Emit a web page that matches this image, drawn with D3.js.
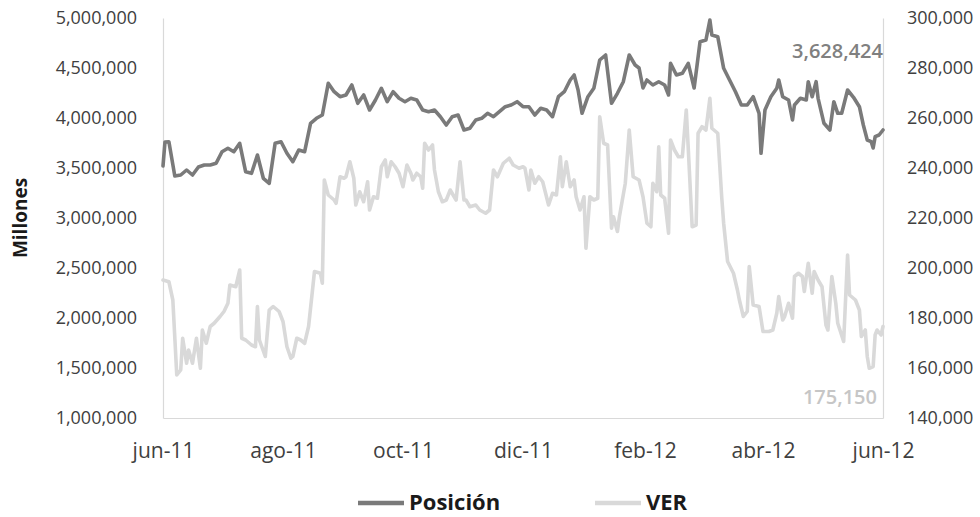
<!DOCTYPE html>
<html>
<head>
<meta charset="utf-8">
<script src="https://cdn.jsdelivr.net/npm/d3@7"></script>
<style>
  html, body { margin: 0; padding: 0; background: #ffffff; }
  svg { display: block; font-family: "Open Sans", sans-serif; }
</style>
</head>
<body>
<svg id="chart" width="980" height="517"></svg>
<script>
// ---------------- DATA ----------------
const posicionDates = [
  "2011-06-01","2011-06-02","2011-06-04","2011-06-07","2011-06-10","2011-06-13","2011-06-16","2011-06-19","2011-06-22","2011-06-25","2011-06-28",
  "2011-07-01","2011-07-04","2011-07-07","2011-07-10","2011-07-13","2011-07-16","2011-07-19","2011-07-22","2011-07-25","2011-07-28","2011-07-31",
  "2011-08-03","2011-08-06","2011-08-09","2011-08-12","2011-08-15","2011-08-18","2011-08-21","2011-08-24","2011-08-27","2011-08-30",
  "2011-09-02","2011-09-05","2011-09-08","2011-09-11","2011-09-14","2011-09-17","2011-09-20","2011-09-23","2011-09-26","2011-09-29",
  "2011-10-02","2011-10-05","2011-10-08","2011-10-11","2011-10-14","2011-10-17","2011-10-20","2011-10-23","2011-10-26","2011-10-29",
  "2011-11-01","2011-11-04","2011-11-07","2011-11-10","2011-11-13","2011-11-16","2011-11-19","2011-11-22","2011-11-25","2011-11-28",
  "2011-12-01","2011-12-04","2011-12-07","2011-12-10","2011-12-13","2011-12-16","2011-12-19","2011-12-22","2011-12-25","2011-12-27","2011-12-29","2011-12-31",
  "2012-01-03","2012-01-06","2012-01-09","2012-01-12","2012-01-15","2012-01-18","2012-01-21","2012-01-24","2012-01-27","2012-01-29","2012-01-31",
  "2012-02-02","2012-02-05","2012-02-08","2012-02-11","2012-02-13","2012-02-14","2012-02-17","2012-02-20","2012-02-23","2012-02-26","2012-02-29",
  "2012-03-03","2012-03-05","2012-03-06","2012-03-09","2012-03-12","2012-03-15","2012-03-18","2012-03-21","2012-03-24","2012-03-27","2012-03-30","2012-03-31",
  "2012-04-02","2012-04-05","2012-04-08","2012-04-09","2012-04-11","2012-04-14","2012-04-16","2012-04-17","2012-04-20","2012-04-23","2012-04-24","2012-04-26","2012-04-28","2012-04-29",
  "2012-05-02","2012-05-05","2012-05-07","2012-05-09","2012-05-11","2012-05-14","2012-05-17","2012-05-20","2012-05-22","2012-05-24","2012-05-26","2012-05-27","2012-05-28","2012-05-30",
  "2012-06-01"
];
const posicionValues = [
  3520000,3760000,3763000,3420000,3430000,3480000,3430000,3510000,3530000,3530000,3547000,
  3663000,3697000,3663000,3747000,3463000,3447000,3630000,3397000,3347000,3747000,3763000,
  3647000,3563000,3680000,3663000,3947000,3997000,4030000,4347000,4263000,4213000,
  4230000,4330000,4147000,4230000,4080000,4180000,4297000,4163000,4263000,4197000,
  4163000,4197000,4180000,4080000,4063000,4080000,4013000,3930000,4013000,4030000,
  3880000,3897000,3980000,3997000,4047000,4013000,4063000,4113000,4130000,4163000,
  4113000,4113000,4030000,4097000,4080000,4013000,4213000,4263000,4380000,4430000,4280000,4047000,
  4213000,4297000,4580000,4630000,4147000,4247000,4363000,4630000,4530000,4500000,4300000,
  4380000,4330000,4363000,4330000,4230000,4547000,4430000,4447000,4547000,4300000,4763000,
  4780000,4980000,4830000,4813000,4497000,4380000,4263000,4130000,4130000,4213000,4047000,3647000,
  4080000,4213000,4297000,4380000,4213000,4180000,3980000,4130000,4197000,4180000,4363000,4213000,4363000,4197000,
  3947000,3880000,4163000,4047000,4047000,4280000,4207000,4113000,3930000,3780000,3763000,3700000,3813000,3830000,
  3880000
];

const verDates = [
  "2011-06-01","2011-06-04","2011-06-06","2011-06-08","2011-06-10","2011-06-11","2011-06-13","2011-06-14","2011-06-16","2011-06-18","2011-06-20","2011-06-21","2011-06-23","2011-06-25","2011-06-27","2011-06-30",
  "2011-07-02","2011-07-04","2011-07-05","2011-07-08","2011-07-10","2011-07-11","2011-07-13","2011-07-16","2011-07-18","2011-07-19","2011-07-20","2011-07-23","2011-07-25","2011-07-27","2011-07-30",
  "2011-08-01","2011-08-03","2011-08-05","2011-08-06","2011-08-08","2011-08-10","2011-08-12","2011-08-14","2011-08-16","2011-08-17","2011-08-20","2011-08-21","2011-08-22","2011-08-24","2011-08-27","2011-08-28","2011-08-30",
  "2011-09-01","2011-09-02","2011-09-04","2011-09-06","2011-09-07","2011-09-09","2011-09-11","2011-09-13","2011-09-14","2011-09-16","2011-09-18","2011-09-20","2011-09-22","2011-09-23","2011-09-25","2011-09-27","2011-09-29",
  "2011-10-01","2011-10-03","2011-10-05","2011-10-06","2011-10-08","2011-10-10","2011-10-11","2011-10-12","2011-10-14","2011-10-16","2011-10-17","2011-10-19","2011-10-21","2011-10-23","2011-10-25","2011-10-27","2011-10-28","2011-10-30",
  "2011-11-01","2011-11-02","2011-11-04","2011-11-07","2011-11-09","2011-11-12","2011-11-14","2011-11-16","2011-11-18","2011-11-21","2011-11-24","2011-11-26","2011-11-29",
  "2011-12-01","2011-12-02","2011-12-04","2011-12-05","2011-12-07","2011-12-09","2011-12-11","2011-12-14","2011-12-16","2011-12-18","2011-12-20","2011-12-21","2011-12-23","2011-12-25","2011-12-27","2011-12-28","2011-12-30",
  "2012-01-01","2012-01-02","2012-01-04","2012-01-06","2012-01-08","2012-01-09","2012-01-11","2012-01-13","2012-01-15","2012-01-16","2012-01-18","2012-01-19","2012-01-22","2012-01-24","2012-01-26","2012-01-29","2012-01-31",
  "2012-02-02","2012-02-04","2012-02-05","2012-02-07","2012-02-08","2012-02-09","2012-02-11","2012-02-13","2012-02-14","2012-02-16","2012-02-18","2012-02-20","2012-02-22","2012-02-23","2012-02-25","2012-02-27","2012-02-28",
  "2012-03-01","2012-03-03","2012-03-05","2012-03-06","2012-03-09","2012-03-11","2012-03-12","2012-03-14","2012-03-17","2012-03-19","2012-03-20","2012-03-22","2012-03-24","2012-03-25","2012-03-27","2012-03-30",
  "2012-04-01","2012-04-04","2012-04-06","2012-04-08","2012-04-09","2012-04-11","2012-04-12","2012-04-14","2012-04-16","2012-04-17","2012-04-19","2012-04-21","2012-04-22","2012-04-24","2012-04-26","2012-04-27","2012-04-29",
  "2012-05-01","2012-05-03","2012-05-04","2012-05-06","2012-05-08","2012-05-09","2012-05-12","2012-05-14","2012-05-15","2012-05-18","2012-05-20","2012-05-21","2012-05-23","2012-05-24","2012-05-25","2012-05-27","2012-05-28","2012-05-29","2012-05-31",
  "2012-06-01"
];
const verValues = [
  195200,194500,187200,157200,159200,171900,161900,167200,161900,171900,159900,175200,169900,176600,177900,180600,
  182600,185900,193200,192500,199200,171900,171200,169200,168500,184600,171200,164600,183200,184600,182600,
  178600,168500,163900,164600,171900,171200,169900,176600,191200,198600,197900,193900,235200,229200,227200,225900,236500,
  235900,236500,242500,235900,225200,230500,226500,234500,223200,228500,227900,240500,243200,236500,242500,240500,237900,
  232500,241200,237900,235200,237900,236500,231900,249900,247200,249200,239200,230500,226500,227200,231200,228500,227200,242500,
  227200,227200,224500,225200,223200,221900,223200,239200,236500,241900,243900,241200,239900,
  240500,239900,231200,239200,233900,236500,234500,225200,229900,229200,244500,232500,242500,232500,235200,228500,223200,
  228500,207900,228500,227200,227900,260500,249900,249200,215900,220500,214600,220500,233900,255200,236500,235200,228500,
  217900,216500,233900,230500,248500,229200,227900,213900,251200,247200,244500,244500,263200,247900,216500,217200,253900,
  256500,255200,267900,255900,253900,228500,217900,202600,197900,191200,187200,180600,182600,200600,185200,184600,
  174600,174600,175200,181900,188600,179200,180600,185900,179900,196600,197900,196600,190600,201900,189900,198600,195200,
  192500,177200,175200,196600,185900,177900,170600,205200,189200,187200,183200,172600,175200,164600,159900,160600,173200,175200,173200,
  176600
];

const seriesNames = ["Posición", "VER"];
const xTickDates = ["2011-06-01","2011-08-01","2011-10-01","2011-12-01","2012-02-01","2012-04-01","2012-06-01"];
const xTickLabels = ["jun-11","ago-11","oct-11","dic-11","feb-12","abr-12","jun-12"];
const leftTicks = [1000000,1500000,2000000,2500000,3000000,3500000,4000000,4500000,5000000];
const rightTicks = [140000,160000,180000,200000,220000,240000,260000,280000,300000];
const annotationPos = "3,628,424";
const annotationVer = "175,150";
const yTitle = "Millones";

// ---------------- CHART ----------------
const parse = d3.timeParse("%Y-%m-%d");
const svg = d3.select("#chart");
const m = { left: 163, right: 883, top: 18, bottom: 418 };
const colPos = "#7a7a7a", colVer = "#d9d9d9", axisCol = "#d9d9d9", textCol = "#404040";

const x = d3.scaleTime().domain([parse(xTickDates[0]), parse(xTickDates[xTickDates.length - 1])]).range([m.left, m.right]);
const yL = d3.scaleLinear().domain([leftTicks[0], leftTicks[leftTicks.length - 1]]).range([m.bottom, m.top]);
const yR = d3.scaleLinear().domain([rightTicks[0], rightTicks[rightTicks.length - 1]]).range([m.bottom, m.top]);
const fmt = d3.format(",");

// axes
const gL = svg.append("g").attr("transform", `translate(${m.left},0)`)
  .call(d3.axisLeft(yL).tickValues(leftTicks).tickFormat(fmt).tickSize(0).tickPadding(26));
const gR = svg.append("g").attr("transform", `translate(${m.right},0)`)
  .call(d3.axisRight(yR).tickValues(rightTicks).tickFormat(fmt).tickSize(0).tickPadding(24));
const gX = svg.append("g").attr("transform", `translate(0,${m.bottom})`)
  .call(d3.axisBottom(x).tickValues(xTickDates.map(parse)).tickFormat((d, i) => xTickLabels[i]).tickSize(0));

[gL, gR, gX].forEach(g => {
  g.select(".domain").attr("stroke", axisCol).attr("stroke-width", 1.2);
  g.selectAll("text").attr("fill", textCol).attr("font-family", "'Open Sans', sans-serif");
});
gL.selectAll("text").attr("font-size", 18);
gR.selectAll("text").attr("font-size", 18);
gX.selectAll("text").attr("font-size", 21).attr("y", 40).attr("dy", 0);

// y title
svg.append("text")
  .attr("transform", "translate(27,218) rotate(-90)")
  .attr("text-anchor", "middle")
  .attr("font-size", 19).attr("font-weight", 700).attr("fill", "#1a1a1a")
  .text(yTitle);

// lines
const verData = verDates.map((d, i) => ({ date: parse(d), value: verValues[i] }));
const posData = posicionDates.map((d, i) => ({ date: parse(d), value: posicionValues[i] }));

svg.append("path").datum(verData)
  .attr("fill", "none").attr("stroke", colVer).attr("stroke-width", 3.6)
  .attr("stroke-linejoin", "round").attr("stroke-linecap", "round")
  .attr("d", d3.line().x(d => x(d.date)).y(d => yR(d.value)));

svg.append("path").datum(posData)
  .attr("fill", "none").attr("stroke", colPos).attr("stroke-width", 3.6)
  .attr("stroke-linejoin", "round").attr("stroke-linecap", "round")
  .attr("d", d3.line().x(d => x(d.date)).y(d => yL(d.value)));

// annotations
svg.append("text").attr("x", m.right).attr("y", 58).attr("text-anchor", "end")
  .attr("font-size", 20).attr("font-weight", 600).attr("fill", "#808080").text(annotationPos);
svg.append("text").attr("x", m.right - 6).attr("y", 404).attr("text-anchor", "end")
  .attr("font-size", 20).attr("font-weight", 600).attr("fill", "#c6c6c6").text(annotationVer);

// legend
const legend = [
  { name: seriesNames[0], color: colPos, x0: 358 },
  { name: seriesNames[1], color: colVer, x0: 595 }
];
const lg = svg.append("g");
legend.forEach(l => {
  lg.append("line").attr("x1", l.x0).attr("x2", l.x0 + 46).attr("y1", 503).attr("y2", 503)
    .attr("stroke", l.color).attr("stroke-width", 4.5);
  lg.append("text").attr("x", l.x0 + 51).attr("y", 510)
    .attr("font-size", 22).attr("font-weight", 700).attr("fill", "#1a1a1a").text(l.name);
});
</script>
</body>
</html>
